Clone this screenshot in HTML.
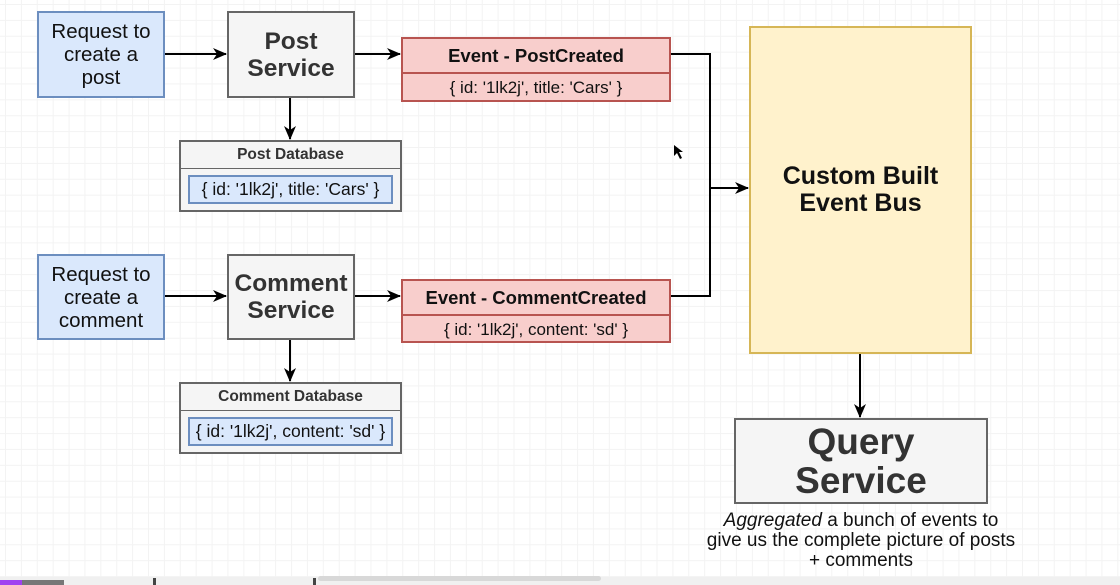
<!DOCTYPE html>
<html><head><meta charset="utf-8"><style>
body{margin:0;width:1120px;height:585px;overflow:hidden;background:#fff;font-family:"Liberation Sans",sans-serif;position:relative;
background-image:linear-gradient(#f3f3f3 1px,transparent 1px),linear-gradient(90deg,#f3f3f3 1px,transparent 1px);background-size:15.9px 15.9px;background-position:5px 4px;}
.b{position:absolute;box-sizing:border-box;display:flex;align-items:center;justify-content:center;text-align:center;}
.blue{background:#dae8fc;border:2px solid #6c8ebf;font-size:20.5px;line-height:23px;color:#111;}
.gray{background:#f5f5f5;border:2px solid #666;font-weight:bold;color:#333;font-size:24.5px;line-height:27px;}
.ev{position:absolute;box-sizing:border-box;background:#f8cecc;border:2px solid #b85450;}
.ev .h{height:33px;border-bottom:2px solid #b85450;display:flex;align-items:center;justify-content:center;font-weight:bold;font-size:18.5px;color:#111;}
.ev .c{display:flex;align-items:center;justify-content:center;height:27px;font-size:17px;color:#111;}
.db{position:absolute;box-sizing:border-box;background:#f5f5f5;border:2px solid #666;}
.db .h{height:26px;border-bottom:1.5px solid #666;display:flex;align-items:center;justify-content:center;font-weight:bold;font-size:15.5px;color:#333;}
.db .in{position:absolute;left:7px;right:7px;top:33px;height:29px;background:#dae8fc;border:2px solid #6c8ebf;box-sizing:border-box;display:flex;align-items:center;justify-content:center;font-size:17.5px;color:#111;}
</style></head><body>
<svg width="1120" height="585" style="position:absolute;left:0;top:0">
<defs><marker id="a" markerWidth="14" markerHeight="12" refX="13" refY="6" orient="auto" markerUnits="userSpaceOnUse"><path d="M0,0 L14,6 L0,12 L4,6z" fill="#000"/></marker></defs>
<g stroke="#000" stroke-width="2" fill="none">
<line x1="164" y1="54" x2="226" y2="54" marker-end="url(#a)"/>
<line x1="354" y1="54" x2="400" y2="54" marker-end="url(#a)"/>
<line x1="290" y1="97" x2="290" y2="139" marker-end="url(#a)"/>
<line x1="164" y1="296" x2="226" y2="296" marker-end="url(#a)"/>
<line x1="354" y1="296" x2="400" y2="296" marker-end="url(#a)"/>
<line x1="290" y1="339" x2="290" y2="381" marker-end="url(#a)"/>
<polyline points="670,54 710,54 710,296 670,296"/>
<line x1="710" y1="188" x2="748" y2="188" marker-end="url(#a)"/>
<line x1="860" y1="353" x2="860" y2="417" marker-end="url(#a)"/>
</g>
<path d="M674,145 L674,156 L677,153 L680,159 L682,158 L679,152 L683,152z" fill="#000"/>
</svg>
<div class="b blue" style="left:37px;top:11px;width:128px;height:87px">Request to<br>create a<br>post</div>
<div class="b gray" style="left:227px;top:11px;width:128px;height:87px">Post<br>Service</div>
<div class="ev" style="left:401px;top:37px;width:270px;height:65px"><div class="h">Event - PostCreated</div><div class="c">{ id: '1lk2j', title: 'Cars' }</div></div>
<div class="db" style="left:179px;top:140px;width:223px;height:72px"><div class="h">Post Database</div><div class="in">{ id: '1lk2j', title: 'Cars' }</div></div>
<div class="b blue" style="left:37px;top:254px;width:128px;height:86px">Request to<br>create a<br>comment</div>
<div class="b gray" style="left:227px;top:254px;width:128px;height:86px">Comment<br>Service</div>
<div class="ev" style="left:401px;top:279px;width:270px;height:64px"><div class="h">Event - CommentCreated</div><div class="c">{ id: '1lk2j', content: 'sd' }</div></div>
<div class="db" style="left:179px;top:382px;width:223px;height:72px"><div class="h">Comment Database</div><div class="in">{ id: '1lk2j', content: 'sd' }</div></div>
<div class="b" style="left:749px;top:26px;width:223px;height:328px;background:#fff2cc;border:2px solid #d6b656;font-weight:bold;font-size:25px;line-height:27px;color:#111">Custom Built<br>Event Bus</div>
<div class="b gray" style="left:734px;top:418px;width:254px;height:86px;font-size:37px;line-height:39px">Query<br>Service</div>
<div style="position:absolute;left:680px;top:511px;width:362px;text-align:center;font-size:19px;line-height:20px;color:#111"><i>Aggregated</i> a bunch of events to<br>give us the complete picture of posts<br>+ comments</div>
<div style="position:absolute;left:0;top:577px;width:1120px;height:8px;background:#f0f0f0"></div>
<div style="position:absolute;left:318px;top:576px;width:283px;height:5px;background:#d8d8d8;border-radius:3px"></div>
<div style="position:absolute;left:0;top:580px;width:22px;height:5px;background:#a040f0"></div>
<div style="position:absolute;left:22px;top:580px;width:42px;height:5px;background:#777"></div>
<div style="position:absolute;left:153px;top:578px;width:3px;height:7px;background:#444"></div>
<div style="position:absolute;left:313px;top:578px;width:3px;height:7px;background:#444"></div>
</body></html>
